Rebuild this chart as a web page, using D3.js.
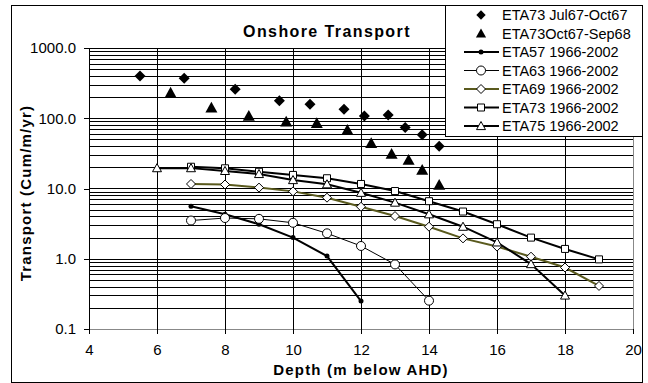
<!DOCTYPE html>
<html>
<head>
<meta charset="utf-8">
<title>Onshore Transport</title>
<style>
body { margin: 0; background: #fff; }
svg { display: block; font-family: "Liberation Sans", Arial, sans-serif; }
</style>
</head>
<body>
<div id="chart"></div>
<script src="https://d3js.org/d3.v7.min.js"></script>
<script>
// scatter series (ETA73 survey pairs)
var julDepth = [5.5, 6.8, 8.3, 9.6, 10.5, 11.5, 12.1, 12.8, 13.3, 13.8, 14.3];
var julVal   = [400, 370, 258, 178, 158, 134, 108, 111, 74, 58, 40];
var octDepth = [6.4, 7.6, 8.7, 9.8, 10.7, 11.6, 12.3, 12.9, 13.4, 13.8, 14.3];
var octVal   = [230, 141, 108, 89, 85, 68, 44, 31, 25.5, 18.3, 11.2];

// 1966-2002 series
var eta57Depth = [7, 8, 9, 10, 11, 12];
var eta57Val   = [5.6, 4.3, 3.1, 2.0, 1.09, 0.25];
var eta63Depth = [7, 8, 9, 10, 11, 12, 13, 14];
var eta63Val   = [3.5, 3.8, 3.7, 3.25, 2.3, 1.52, 0.83, 0.253];
var eta69Depth = [7, 8, 9, 10, 11, 12, 13, 14, 15, 16, 17, 18, 19];
var eta69Val   = [11.6, 11.4, 10.3, 9.1, 7.4, 5.5, 4.05, 2.86, 1.95, 1.49, 1.07, 0.75, 0.41];
var eta73Depth = [7, 8, 9, 10, 11, 12, 13, 14, 15, 16, 17, 18, 19];
var eta73Val   = [20.4, 19.4, 17.3, 15.6, 14.0, 11.6, 9.2, 6.6, 4.7, 3.1, 2.0, 1.38, 0.98];
var eta75Depth = [6, 7, 8, 9, 10, 11, 12, 13, 14, 15, 16, 17, 18];
var eta75Val   = [19.5, 19.5, 17.8, 16.1, 13.2, 11.5, 8.7, 6.3, 4.3, 2.86, 1.71, 0.84, 0.30];

var xTicks = [4, 6, 8, 10, 12, 14, 16, 18, 20];
var yTicks = [0.1, 1, 10, 100, 1000];
var legendNames = ["ETA73 Jul67-Oct67", "ETA73Oct67-Sep68", "ETA57 1966-2002",
  "ETA63 1966-2002", "ETA69 1966-2002", "ETA73 1966-2002", "ETA75 1966-2002"];

var W = 648, H = 383;
var plot = { left: 89, right: 633, top: 48, bottom: 329 };

var svg = d3.select("#chart").append("svg")
  .attr("width", W).attr("height", H);

// outer chart frame
svg.append("rect")
  .attr("x", 11.5).attr("y", 5.5).attr("width", 631).attr("height", 377)
  .attr("fill", "#fff").attr("stroke", "#000");

var x = d3.scaleLinear().domain([4, 20]).range([plot.left, plot.right]);
var y = d3.scaleLog().domain([0.1, 1000]).range([plot.bottom, plot.top]);

// horizontal gridlines (major + minor, Excel style)
var yGrid = [];
[0.1, 1, 10, 100].forEach(function(d) {
  for (var k = 1; k < 10; k++) yGrid.push(d * k);
});
yGrid.push(1000);

var grid = svg.append("g").attr("shape-rendering", "crispEdges");
grid.selectAll("line.h").data(yGrid).enter().append("line")
  .attr("x1", plot.left).attr("x2", plot.right)
  .attr("y1", function(d) { return Math.round(y(d)) + 0.5; })
  .attr("y2", function(d) { return Math.round(y(d)) + 0.5; })
  .attr("stroke", function(d) { return d === 0.1 ? "#888" : "#000"; });

grid.selectAll("line.v").data(xTicks.slice(1)).enter().append("line")
  .attr("y1", plot.top).attr("y2", plot.bottom)
  .attr("x1", function(d) { return Math.round(x(d)) + 0.5; })
  .attr("x2", function(d) { return Math.round(x(d)) + 0.5; })
  .attr("stroke", function(d) { return d === 20 ? "#888" : "#000"; });

// axes
var xAxis = svg.append("g")
  .attr("transform", "translate(0," + plot.bottom + ")")
  .call(d3.axisBottom(x).tickValues(xTicks).tickSize(5).tickPadding(10).tickSizeOuter(0));
var yAxis = svg.append("g")
  .attr("transform", "translate(" + plot.left + ",0)")
  .call(d3.axisLeft(y).tickValues(yTicks).tickSize(5).tickPadding(8).tickSizeOuter(0)
    .tickFormat(d3.format(".1f")));
[xAxis, yAxis].forEach(function(a) {
  a.selectAll("text").attr("font-size", 15).attr("fill", "#000")
    .attr("font-family", "Liberation Sans, Arial, sans-serif");
  a.selectAll("line, path").attr("stroke", "#000").attr("shape-rendering", "crispEdges");
});
xAxis.select(".domain").attr("stroke", "#888");

// titles
svg.append("text")
  .attr("x", 327).attr("y", 37)
  .attr("text-anchor", "middle").attr("font-size", 16).attr("font-weight", "bold")
  .attr("letter-spacing", 1.4)
  .text("Onshore Transport");
svg.append("text")
  .attr("x", (plot.left + plot.right) / 2).attr("y", 375)
  .attr("text-anchor", "middle").attr("font-size", 15).attr("font-weight", "bold")
  .attr("letter-spacing", 1.2)
  .text("Depth (m below AHD)");
svg.append("text")
  .attr("transform", "translate(31," + 193 + ") rotate(-90)")
  .attr("text-anchor", "middle").attr("font-size", 15).attr("font-weight", "bold")
  .attr("letter-spacing", 1.2)
  .text("Transport (Cum/m/yr)");

// marker shapes
function marker(type, s) {
  if (type === "diamond") return "M0," + (-s) + "L" + s + ",0L0," + s + "L" + (-s) + ",0Z";
  if (type === "triangle") return "M0," + (-s) + "L" + s + "," + (s * 0.8) + "L" + (-s) + "," + (s * 0.8) + "Z";
  if (type === "square") return "M" + (-s) + "," + (-s) + "H" + s + "V" + s + "H" + (-s) + "Z";
  return "M" + (-s) + ",0A" + s + "," + s + " 0 1,0 " + s + ",0A" + s + "," + s + " 0 1,0 " + (-s) + ",0Z";
}

function zip(a, b) { return a.map(function(d, i) { return [d, b[i]]; }); }

var series = [
  { data: zip(julDepth, julVal), line: false, shape: "diamond", size: 5.5, fill: "#000", sw: 0 },
  { data: zip(octDepth, octVal), line: false, shape: "triangle", size: 6, fill: "#000", sw: 0 },
  { data: zip(eta57Depth, eta57Val), line: true, color: "#000", lw: 2, shape: "circle", size: 2.5, fill: "#000", sw: 0 },
  { data: zip(eta63Depth, eta63Val), line: true, color: "#000", lw: 1, shape: "circle", size: 4.5, fill: "#fff", sw: 1 },
  { data: zip(eta69Depth, eta69Val), line: true, color: "#5a5a1e", lw: 2, shape: "diamond", size: 4.5, fill: "#fff", sw: 1 },
  { data: zip(eta73Depth, eta73Val), line: true, color: "#000", lw: 2, shape: "square", size: 3.5, fill: "#fff", sw: 1 },
  { data: zip(eta75Depth, eta75Val), line: true, color: "#000", lw: 2, shape: "triangle", size: 4.5, fill: "#fff", sw: 1 }
];

var lineGen = d3.line().x(function(d) { return x(d[0]); }).y(function(d) { return y(d[1]); });

series.forEach(function(s) {
  if (s.line) {
    svg.append("path").datum(s.data)
      .attr("d", lineGen).attr("fill", "none")
      .attr("stroke", s.color).attr("stroke-width", s.lw);
  }
});
series.forEach(function(s) {
  svg.append("g").selectAll("path").data(s.data).enter().append("path")
    .attr("transform", function(d) { return "translate(" + x(d[0]) + "," + y(d[1]) + ")"; })
    .attr("d", marker(s.shape, s.size))
    .attr("fill", s.fill)
    .attr("stroke", s.sw ? "#000" : "none").attr("stroke-width", s.sw);
});

// legend
var lg = svg.append("g");
lg.append("rect").attr("x", 445.5).attr("y", 5.5).attr("width", 197).attr("height", 131)
  .attr("fill", "#fff").attr("stroke", "#000");
series.forEach(function(s, i) {
  var ly = 15 + i * 18.5;
  if (s.line) {
    lg.append("line").attr("x1", 464).attr("x2", 499).attr("y1", ly).attr("y2", ly)
      .attr("stroke", s.color).attr("stroke-width", s.lw);
  }
  lg.append("path").attr("transform", "translate(481," + ly + ")")
    .attr("d", marker(s.shape, s.size * (s.line ? 1 : 0.85)))
    .attr("fill", s.fill).attr("stroke", s.sw ? "#000" : "none").attr("stroke-width", s.sw);
  lg.append("text").attr("x", 502).attr("y", ly + 5)
    .attr("font-size", 14.5).text(legendNames[i]);
});
</script>
</body>
</html>
